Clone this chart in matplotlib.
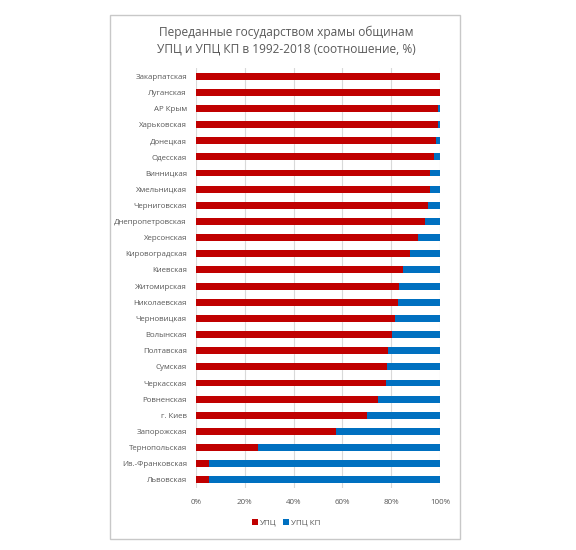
import matplotlib
matplotlib.use('Agg')
import matplotlib.pyplot as plt
import matplotlib.ticker as ticker
from matplotlib.patches import Rectangle
import numpy as np

plt.rcParams['font.family'] = ['Open Sans', 'DejaVu Sans']

# Regions, top to bottom
regions = ['Закарпатская', 'Луганская', 'АР Крым', 'Харьковская', 'Донецкая',
           'Одесская', 'Винницкая', 'Хмельницкая', 'Черниговская',
           'Днепропетровская', 'Херсонская', 'Кировоградская', 'Киевская',
           'Житомирская', 'Николаевская', 'Черновицкая', 'Волынская',
           'Полтавская', 'Сумская', 'Черкасская', 'Ровненская', 'г. Киев',
           'Запорожская', 'Тернопольская', 'Ив.-Франковская', 'Львовская']
# share of UPC (%), rest is UPC KP
upc = [100.0, 100.0, 99.2, 99.0, 98.4, 97.4, 95.8, 95.8, 95.1, 93.7,
       91.1, 87.8, 84.7, 83.0, 82.7, 81.5, 80.5, 78.5, 78.1, 77.9,
       74.5, 70.1, 57.5, 25.3, 5.3, 5.3]
upc_kp = [100.0 - v for v in upc]

RED = '#C00000'
BLUE = '#0070C0'
TXT = '#595959'

fig = plt.figure(figsize=(5.76, 5.5), dpi=100)
fig.patch.set_facecolor('white')

# chart frame
fig.patches.append(Rectangle((110 / 576, 1 - 539 / 550), 350 / 576, 524 / 550,
                             transform=fig.transFigure, fill=False,
                             edgecolor='#C8C8C8', linewidth=1.0))

ax = fig.add_axes([196 / 576, 1 - 488 / 550, 244 / 576, 420 / 550])
y = np.arange(len(regions))
ax.barh(y, upc, height=0.43, color=RED, label='УПЦ', zorder=3)
ax.barh(y, upc_kp, left=upc, height=0.43, color=BLUE, label='УПЦ КП', zorder=3)

ax.set_ylim(len(regions) - 0.5, -0.5)
ax.set_xlim(0, 100)
ax.set_yticks(y)
ax.set_yticklabels(regions, fontsize=5.7, color=TXT)
ax.xaxis.set_major_locator(ticker.MultipleLocator(20))
ax.xaxis.set_major_formatter(ticker.FuncFormatter(lambda v, p: f'{v:.0f}%'))
ax.tick_params(axis='x', labelsize=5.8, colors=TXT, length=0, pad=8)
ax.tick_params(axis='y', length=0, pad=6.5)
ax.grid(axis='x', color='#D9D9D9', linewidth=0.8, zorder=0)
for s in ax.spines.values():
    s.set_visible(False)

fig.text(0.497, 1 - 41 / 550, 'Переданные государством храмы общинам\nУПЦ и УПЦ КП в 1992-2018 (соотношение, %)',
         ha='center', va='center', fontsize=8.6, color=TXT, linespacing=1.35)

handles, labels = ax.get_legend_handles_labels()
fig.legend(handles, labels, loc='center', bbox_to_anchor=(0.497, 1 - 523 / 550),
           ncol=2, frameon=False, fontsize=5.8, labelcolor=TXT,
           handlelength=0.7, handleheight=0.7, handletextpad=0.3, columnspacing=0.8)

fig.savefig('out.png', dpi=100, facecolor='white')
